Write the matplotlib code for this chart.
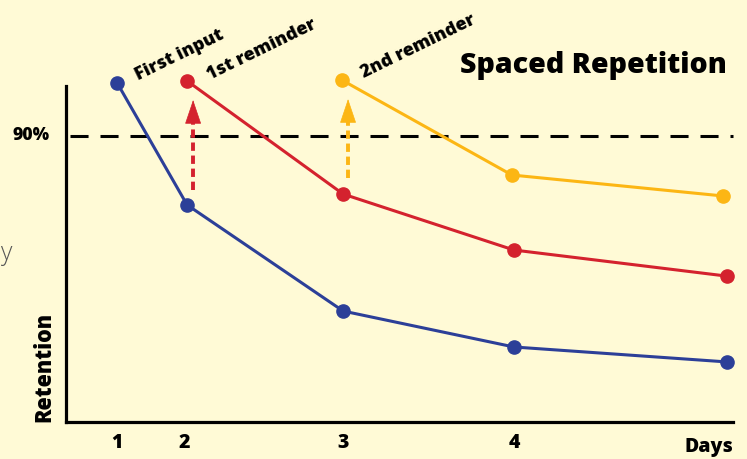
import matplotlib
matplotlib.use("Agg")
import matplotlib.pyplot as plt

plt.rcParams['font.family'] = ['Open Sans', 'DejaVu Sans']
plt.rcParams['lines.scale_dashes'] = False

# positions along the (schematic, non-linear) day axis
blue_x = [1.0, 2.0, 4.23, 6.67, 9.71]
blue_y = [106.7, 68.3, 34.9, 23.6, 18.9]
red_x = [2.0, 4.23, 6.67, 9.71]
red_y = [107.3, 71.7, 54.1, 45.9]
yellow_x = [4.21, 6.64, 9.66]
yellow_y = [107.6, 77.7, 71.1]

threshold = 90
tick_pos = [1.0, 1.96, 4.23, 6.67]
tick_labels = ['1', '2', '3', '4']
curve_labels = ['First input', '1st reminder', '2nd reminder']
arrow_x = [2.086, 4.30]
arrow_from = [73.0, 76.8]
arrow_to = [101.3, 101.6]

bg = '#fffad6'
blue = '#2c3f98'
red = '#d4222e'
yellow = '#fcb614'
W = 800  # heavy weight, close to the original bold font

fig = plt.figure(figsize=(7.47, 4.59), dpi=100, facecolor=bg)
ax = fig.add_axes([66/747, 37/459, 667/747, 336/459])
ax.set_facecolor(bg)
ax.set_xlim(0.27, 9.80)
ax.set_ylim(0, 105.7)

for s in ['top', 'right']:
    ax.spines[s].set_visible(False)
for s in ['left', 'bottom']:
    ax.spines[s].set_linewidth(2.3)
    ax.spines[s].set_color('black')

# 90% line
ax.plot([0.33, 9.80], [threshold, threshold], color='black', lw=2.2,
        dashes=(13, 8.6), clip_on=False, zorder=2)

# curves
for xs, ys, c in [(blue_x, blue_y, blue), (red_x, red_y, red), (yellow_x, yellow_y, yellow)]:
    ax.plot(xs, ys, color=c, lw=2.2, marker='o', markersize=9.5,
            clip_on=False, zorder=3)

# dashed arrows showing the boost of each reminder
for x0, y0, y1, c in zip(arrow_x, arrow_from, arrow_to, [red, yellow]):
    head_base = y1 - 7.0
    ax.plot([x0, x0], [y0, head_base], color=c, lw=2.8, dashes=(6, 3.4),
            solid_capstyle='butt', zorder=2)
    ax.annotate('', xy=(x0, y1), xytext=(x0, head_base),
                arrowprops=dict(arrowstyle='-|>,head_length=0.8,head_width=0.27',
                                mutation_scale=20, color=c, lw=0.5,
                                shrinkA=0, shrinkB=0), annotation_clip=False)

# rotated curve labels
label_pos = [(blue_x[0] + 0.30, blue_y[0] + 0.8),
             (red_x[0] + 0.33, red_y[0] + 0.2),
             (yellow_x[0] + 0.32, yellow_y[0] + 0.6)]
for (lx, ly), txt in zip(label_pos, curve_labels):
    ax.text(lx, ly, txt, rotation=26, rotation_mode='anchor', ha='left',
            va='baseline', fontsize=13, fontweight=W, clip_on=False)

ax.set_xticks(tick_pos)
ax.set_xticklabels(tick_labels, fontsize=14, fontweight=W)
ax.set_yticks([])
ax.tick_params(axis='x', length=0, pad=8)

ax.text(1.0, -0.045, 'Days', transform=ax.transAxes, ha='right', va='top',
        fontsize=14, fontweight=W)

fig.text(31/747, 1 - 136/459, '90%', ha='center', va='center',
         fontsize=12.5, fontweight=W)
fig.text(44/747, 1 - 367/459, 'Retention', rotation=90, ha='center',
         va='center', fontsize=15.5, fontweight=W)
fig.text(727/747, 1 - 65/459, 'Spaced Repetition', ha='right', va='center',
         fontsize=20.5, fontweight=W)
fig.text(12/747, 1 - 254/459, 'y', ha='right', va='center', fontsize=18,
         color='#555555', fontweight='light')

fig.savefig('out.png', dpi=100, facecolor=bg)
